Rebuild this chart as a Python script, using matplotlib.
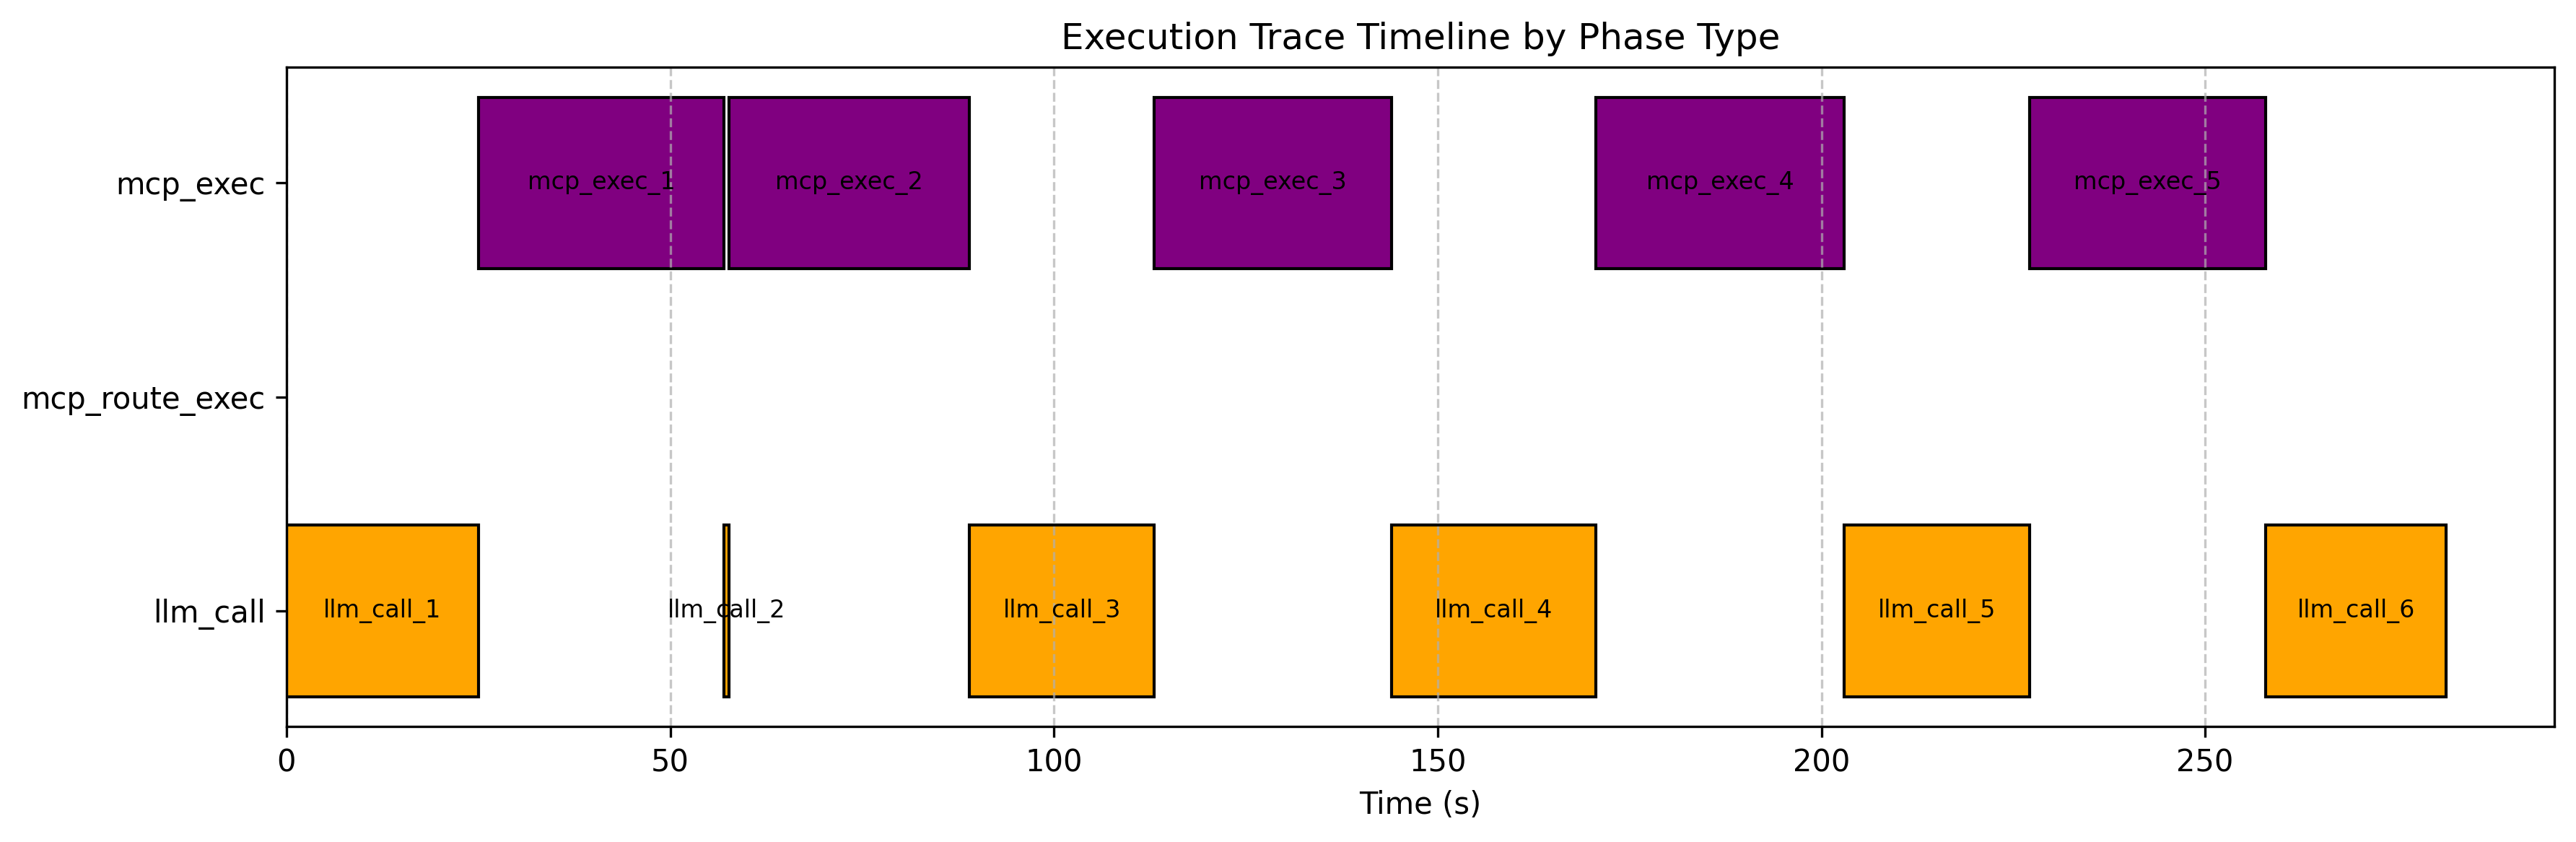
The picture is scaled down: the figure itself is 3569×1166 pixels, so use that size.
import matplotlib
matplotlib.use("Agg")
import matplotlib.pyplot as plt

categories = ["llm_call", "mcp_route_exec", "mcp_exec"]
phase_names = ["llm_call_1", "mcp_exec_1", "llm_call_2", "mcp_exec_2", "llm_call_3",
               "mcp_exec_3", "llm_call_4", "mcp_exec_4", "llm_call_5", "mcp_exec_5",
               "llm_call_6"]
phase_types = ["llm_call", "mcp_exec", "llm_call", "mcp_exec", "llm_call",
               "mcp_exec", "llm_call", "mcp_exec", "llm_call", "mcp_exec",
               "llm_call"]
starts = [0.0, 25.0, 57.05, 57.7, 89.0, 113.1, 144.0, 170.6, 203.0, 227.1, 257.9]
durations = [25.0, 32.05, 0.65, 31.3, 24.1, 30.9, 26.6, 32.4, 24.1, 30.8, 23.5]
colors = {"llm_call": "orange", "mcp_route_exec": "tab:blue", "mcp_exec": "purple"}

fig = plt.figure(figsize=(3569 / 300, 1166 / 300), dpi=300)
ax = fig.add_axes([0.1112, 0.1372, 0.9915 - 0.1112, 0.9200 - 0.1372])

ypos = {c: i for i, c in enumerate(categories)}
for name, t, s, d in zip(phase_names, phase_types, starts, durations):
    y = ypos[t]
    ax.barh(y, d, left=s, height=0.8, color=colors[t], edgecolor="black", linewidth=1)
    ax.text(s + d / 2, y, name, ha="center", va="center", fontsize=8, color="black")

ax.set_yticks(range(len(categories)))
ax.set_yticklabels(categories)
end = max(s + d for s, d in zip(starts, durations))
ax.set_xlim(0, end * 1.05)
ax.set_xlabel("Time (s)")
ax.set_title("Execution Trace Timeline by Phase Type")
ax.grid(axis="x", linestyle="--", alpha=0.7)

fig.savefig("out.png", dpi=300)
